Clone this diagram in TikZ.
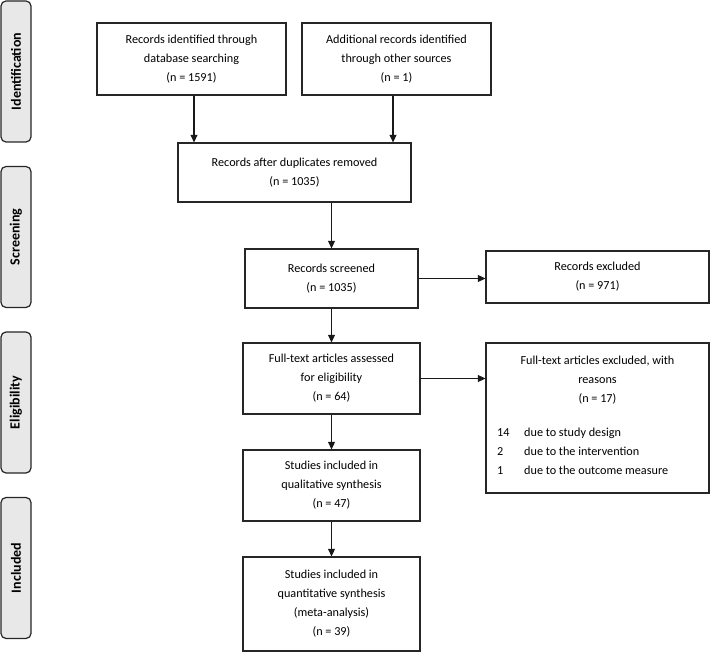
\documentclass[tikz,border=0pt]{standalone}
\usepackage{fontspec}
\setmainfont{Carlito}
\usetikzlibrary{arrows.meta}
\begin{document}
\begin{tikzpicture}[x=1pt,y=-1pt,
  box/.style={draw=black!85, line width=1.3pt, fill=white, align=center, inner sep=0pt,
    font=\fontsize{12.2}{19}\selectfont},
  phase/.style={draw=black!85, line width=1.2pt, fill=black!9, rounded corners=5pt, rotate=90,
    minimum width=141pt, minimum height=30pt, inner sep=0pt,
    font=\fontsize{14}{16}\selectfont\bfseries},
  plain/.style={inner sep=0pt, font=\fontsize{12.2}{19}\selectfont},
  arr/.style={line width=1.3pt, draw=black!90, -{Triangle[length=7.5pt,width=7pt]}}]
\useasboundingbox (0,0) rectangle (710,652);
% phases
\node[phase] (pid) at (16,71.5) {Identification};
\node[phase] (psc) at (16,237) {Screening};
\node[phase] (pel) at (16,402.5) {Eligibility};
\node[phase] (pin) at (16,568) {Included};
% boxes
\node[box, minimum width=189pt, minimum height=72pt] (b1) at (191.5,59)
  {Records identified through\\database searching\\(n = 1591)};
\node[box, minimum width=189pt, minimum height=72pt] (b2) at (396.5,59)
  {Additional records identified\\through other sources\\(n = 1)};
\node[box, minimum width=233pt, minimum height=59pt] (b3) at (294.5,172.5)
  {Records after duplicates removed\\(n = 1035)};
\node[box, minimum width=173pt, minimum height=59pt] (b4) at (331.5,278.5)
  {Records screened\\(n = 1035)};
\node[box, minimum width=223pt, minimum height=52pt] (b5) at (597.5,277)
  {Records excluded\\(n = 971)};
\node[box, minimum width=177pt, minimum height=71pt] (b6) at (331.5,378.5)
  {Full-text articles assessed\\for eligibility\\(n = 64)};
\node[box, minimum width=223pt, minimum height=150pt] (b7) at (597.5,418) {};
\node[plain, align=center, anchor=north] (b7t) at (597.5,356)
  {Full-text articles excluded, with\\reasons\\(n = 17)};
\node[plain, align=left, anchor=north west] (b7l) at (497,428)
  {\makebox[27pt][l]{14}due to study design\\
   \makebox[27pt][l]{2}due to the intervention\\
   \makebox[27pt][l]{1}due to the outcome measure};
\node[box, minimum width=177pt, minimum height=71pt] (b8) at (331.5,485.5)
  {Studies included in\\qualitative synthesis\\(n = 47)};
\node[box, minimum width=177pt, minimum height=94pt] (b9) at (331.5,604)
  {Studies included in\\quantitative synthesis\\(meta-analysis)\\(n = 39)};
% arrows
\draw[arr] ([xshift=2.5pt]b1.south) -- ([xshift=2.5pt]b1.south |- b3.north);
\draw[arr] ([xshift=-3.5pt]b2.south) -- ([xshift=-3.5pt]b2.south |- b3.north);
\draw[arr] (b3.south -| b4.north) -- (b4.north);
\draw[arr] (b4.east) -- (b4.east -| b5.west);
\draw[arr] (b4.south) -- (b6.north);
\draw[arr] (b6.east) -- (b6.east -| b7.west);
\draw[arr] (b6.south) -- (b8.north);
\draw[arr] (b8.south) -- (b9.north);
\end{tikzpicture}
\end{document}
